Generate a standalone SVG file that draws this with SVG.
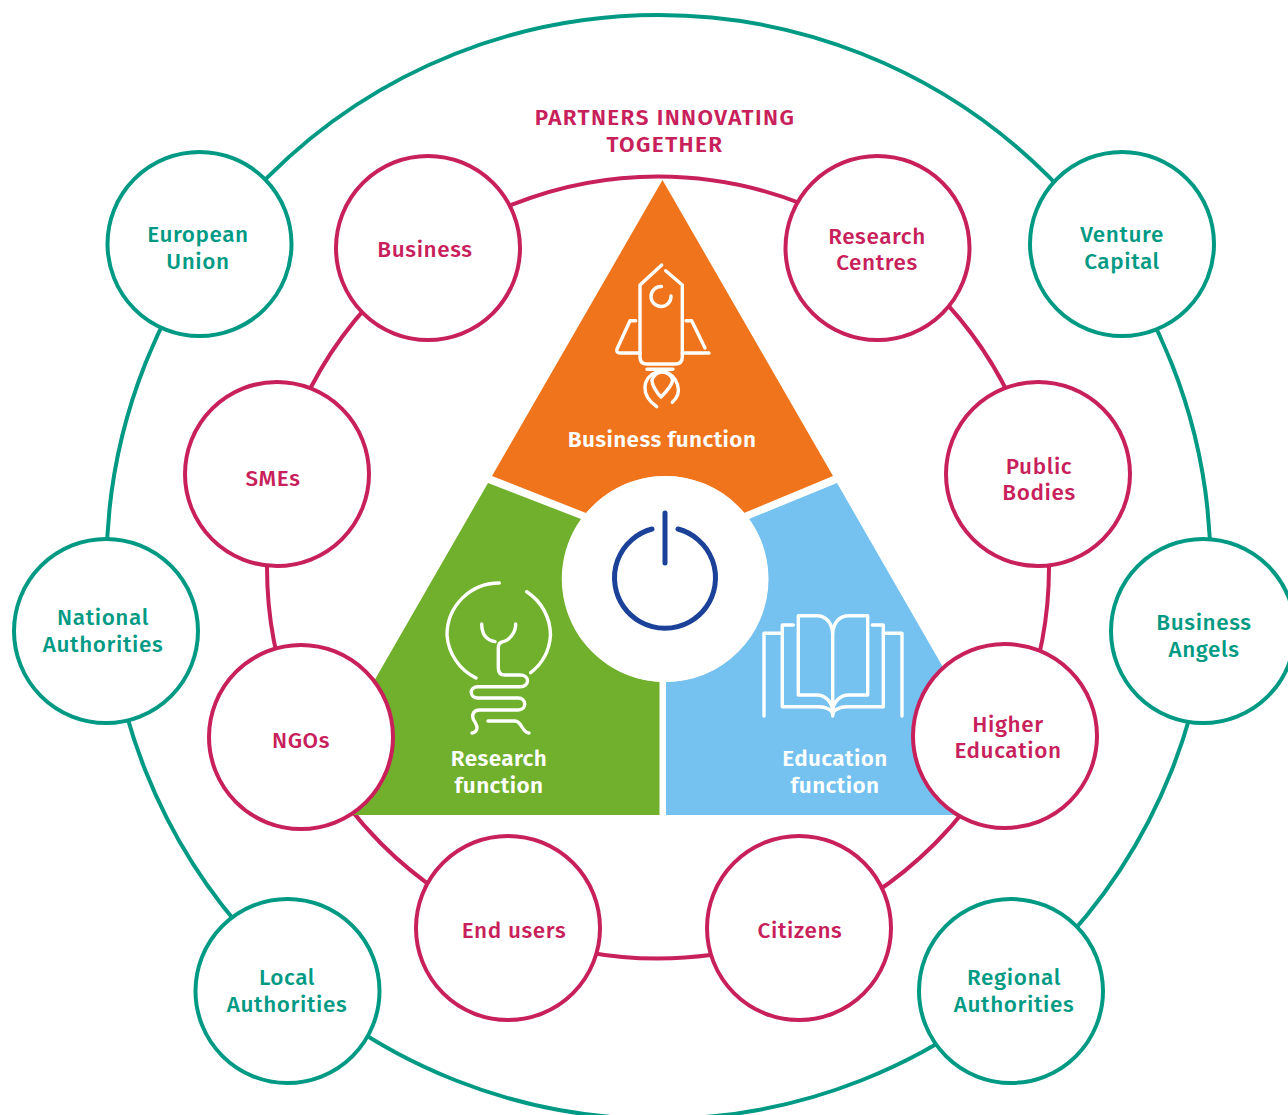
<svg xmlns="http://www.w3.org/2000/svg" width="1288" height="1115" viewBox="0 0 1288 1115">
<style>
.ring{fill:none;stroke-width:4}
.g{stroke:#009a84}.r{stroke:#c8205a}
.node{fill:#fff;stroke-width:4;r:92px}
text{font-family:"Fira Sans","Noto Sans","Liberation Sans",sans-serif;font-weight:500;font-size:22.500px;letter-spacing:.6px;text-anchor:middle}
.title{letter-spacing:1.400px;font-weight:600}
.tw{font-weight:600;letter-spacing:.4px}
.tg{fill:#009a84}.tr{fill:#c8205a}.tw{fill:#fff}
.ic{fill:none;stroke:#fff;stroke-width:3.400;stroke-linecap:round;stroke-linejoin:round}
</style>
<rect width="1288" height="1115" fill="#fff"/>
<g id="connectors">
<circle class="ring g" cx="658.500" cy="567" r="552"/>
<circle class="ring r" cx="658" cy="567.500" r="391"/>
</g>
<g id="triangle">
<path id="business-function" fill="#f0741c" d="M662.500 180L833 476L744 513A103 103 0 0 0 586 513L492 476Z"/>
<path id="research-function" fill="#70b02d" d="M488 483L581 519A103 103 0 0 0 659.500 681.800V815H297Z"/>
<path id="education-function" fill="#75c2f0" d="M837 483L749 519A103 103 0 0 1 666 681.800V815H1028Z"/>
</g>
<g id="rocket" class="ic">
<path d="M661.700 265L640 285V357Q640 364 647 364H675Q682.300 364 682.300 357V285L665.700 270.700"/>
<path d="M635.700 320.700H630L617 349Q616 353 620 353H640M686 320.700H691.700L705 348M682.300 353H709"/>
<path d="M671 296A10 10 0 1 1 661.500 286.500"/>
<path d="M647 369.300H673M656.700 371.700C642 378 640 395 656.700 406.700M665 371.700C677 376 684 392 672.300 402.300"/>
<path d="M652 380Q655 372 662 372Q670 372 672.700 380C672 386 664 394 661 397C658 394 652 386 652 380Z"/>
</g>
<g id="bulb" class="ic">
<path d="M499.300 583A52 52 0 0 0 447 635A52 52 0 0 0 476 678M526.700 591.700A52 52 0 0 1 550.500 635A52 52 0 0 1 530.700 672.700"/>
<path d="M481.700 624C481.700 634 486 640 495 641.700M515.700 624C515.700 634 508 641 502 642Q498.300 643 498.300 648V668Q498.300 675 505 675H520C530 675 530 686.700 520 686.700H478C469 686.700 469 698 478 698H518C527 698 527 710 518 710H480C472 710 471 717 475 722C478 727 478 732 472 733"/>
<path d="M488 721H515C522 721 522 733 529 733"/>
</g>
<g id="book" class="ic">
<path d="M832.700 633V716M832.700 635C832.700 622 825 615.700 816.700 615.700H798.300V695H816.700C825 695 832.700 702 832.700 712M832.700 635C832.700 622 840 615.700 849 615.700H867.700V695H849C840 695 832.700 702 832.700 712"/>
<path d="M793.300 625H782.300V706.700H818.300C826 706.700 832.700 710 832.700 715M872.300 625H883.300V706.700H846.700C840 706.700 832.700 710 832.700 715"/>
<path d="M782.300 633.300H764V716M883.300 633.300H902V716"/>
</g>
<g id="power">
<circle cx="665.500" cy="579" r="103" fill="#fff"/>
<path d="M652 529A50.500 50.500 0 1 0 678 529M665 513V563" fill="none" stroke="#1b4298" stroke-width="5" stroke-linecap="round"/>
</g>
<text class="tw" x="662" y="447">Business function</text>
<text class="tw" x="499" y="766">Research</text>
<text class="tw" x="499" y="793">function</text>
<text class="tw" x="835" y="766">Education</text>
<text class="tw" x="835" y="793">function</text>
<text class="tr title" x="665" y="125">PARTNERS INNOVATING</text>
<text class="tr title" x="665" y="152">TOGETHER</text>
<g id="european-union"><circle class="node g" cx="199.500" cy="244" r="92"/><text class="tg" x="198" y="242">European</text><text class="tg" x="198" y="269">Union</text></g>
<g id="venture-capital"><circle class="node g" cx="1122" cy="244" r="92"/><text class="tg" x="1122" y="242">Venture</text><text class="tg" x="1122" y="269">Capital</text></g>
<g id="national-authorities"><circle class="node g" cx="106" cy="631" r="92"/><text class="tg" x="103" y="625">National</text><text class="tg" x="103" y="652">Authorities</text></g>
<g id="business-angels"><circle class="node g" cx="1203" cy="631" r="92"/><text class="tg" x="1204" y="630">Business</text><text class="tg" x="1204" y="657">Angels</text></g>
<g id="local-authorities"><circle class="node g" cx="287.500" cy="991" r="92"/><text class="tg" x="287" y="985">Local</text><text class="tg" x="287" y="1012">Authorities</text></g>
<g id="regional-authorities"><circle class="node g" cx="1011" cy="991" r="92"/><text class="tg" x="1014" y="985">Regional</text><text class="tg" x="1014" y="1012">Authorities</text></g>
<g id="business"><circle class="node r" cx="428" cy="248" r="92"/><text class="tr" x="425" y="257">Business</text></g>
<g id="research-centres"><circle class="node r" cx="877.500" cy="248" r="92"/><text class="tr" x="877" y="244">Research</text><text class="tr" x="877" y="270">Centres</text></g>
<g id="smes"><circle class="node r" cx="277" cy="474" r="92"/><text class="tr" x="273" y="486">SMEs</text></g>
<g id="public-bodies"><circle class="node r" cx="1038" cy="474" r="92"/><text class="tr" x="1039" y="474">Public</text><text class="tr" x="1039" y="500">Bodies</text></g>
<g id="ngos"><circle class="node r" cx="301" cy="737" r="92"/><text class="tr" x="301" y="748">NGOs</text></g>
<g id="higher-education"><circle class="node r" cx="1005" cy="736" r="93"/><text class="tr" x="1008" y="732">Higher</text><text class="tr" x="1008" y="758">Education</text></g>
<g id="end-users"><circle class="node r" cx="508" cy="928" r="92"/><text class="tr" x="514" y="938">End users</text></g>
<g id="citizens"><circle class="node r" cx="799" cy="928" r="92"/><text class="tr" x="800" y="938">Citizens</text></g>
</svg>
